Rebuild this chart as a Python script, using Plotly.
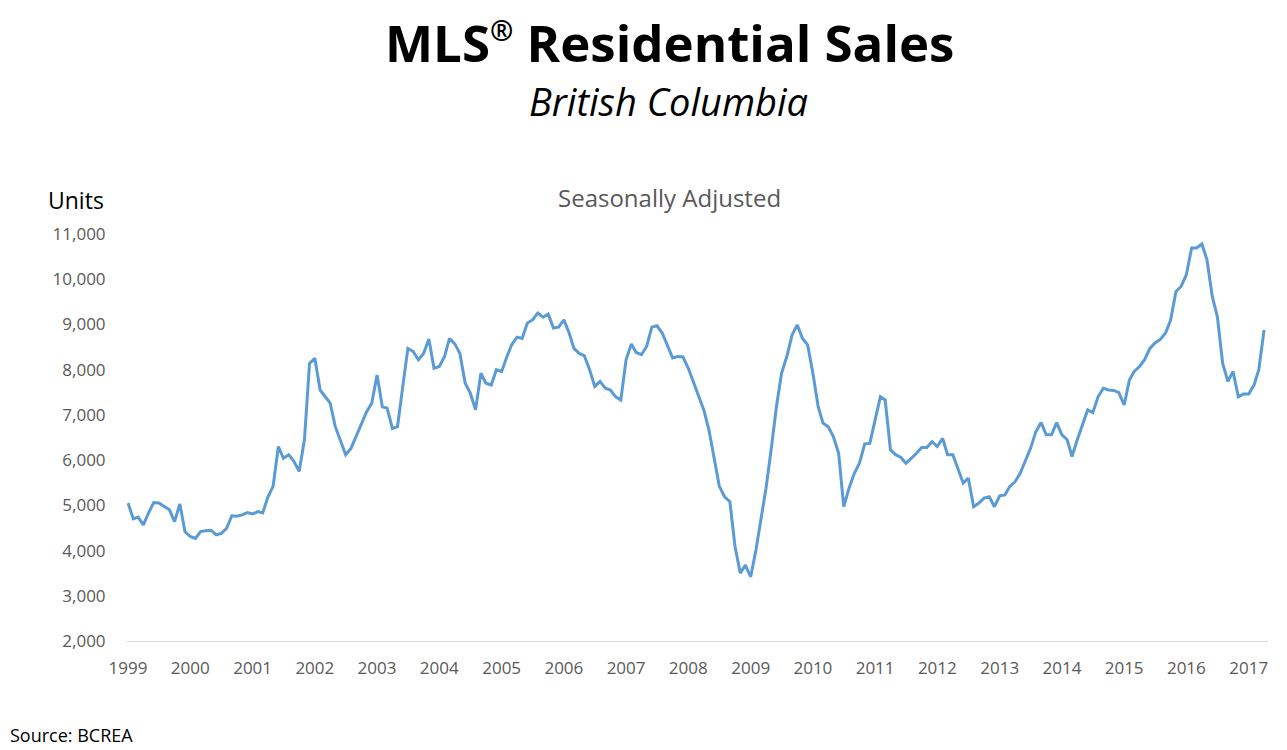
import pandas as pd
import plotly.graph_objects as go

# Monthly seasonally adjusted MLS residential sales, British Columbia (units)
sales_1999 = [5050, 4700, 4740, 4570, 4830, 5060, 5050, 4970, 4900, 4640, 5030, 4420]
sales_2000 = [4310, 4270, 4420, 4440, 4450, 4350, 4380, 4490, 4770, 4760, 4790, 4840]
sales_2001 = [4810, 4860, 4830, 5190, 5420, 6300, 6040, 6120, 5970, 5750, 6450, 8140]
sales_2002 = [8250, 7550, 7400, 7260, 6740, 6410, 6120, 6260, 6520, 6780, 7070, 7260]
sales_2003 = [7880, 7180, 7150, 6700, 6740, 7630, 8470, 8400, 8220, 8360, 8680, 8030]
sales_2004 = [8070, 8290, 8690, 8570, 8360, 7700, 7480, 7110, 7920, 7700, 7660, 8000]
sales_2005 = [7960, 8290, 8550, 8720, 8690, 9030, 9100, 9250, 9160, 9230, 8920, 8940]
sales_2006 = [9100, 8810, 8470, 8360, 8310, 8000, 7630, 7740, 7590, 7550, 7400, 7330]
sales_2007 = [8220, 8570, 8380, 8330, 8510, 8940, 8970, 8810, 8510, 8260, 8290, 8280]
sales_2008 = [8030, 7700, 7440, 7110, 6670, 6000, 5420, 5190, 5080, 4090, 3500, 3680]
sales_2009 = [3420, 4010, 4680, 5380, 6230, 7180, 7920, 8290, 8770, 8990, 8690, 8550]
sales_2010 = [7920, 7180, 6820, 6740, 6520, 6150, 4970, 5380, 5710, 5930, 6360, 6370]
sales_2011 = [6890, 7400, 7330, 6230, 6120, 6060, 5930, 6040, 6150, 6280, 6280, 6410]
sales_2012 = [6300, 6480, 6120, 6120, 5820, 5490, 5600, 4970, 5050, 5160, 5190, 4970]
sales_2013 = [5210, 5230, 5420, 5520, 5710, 6000, 6260, 6630, 6830, 6560, 6560, 6830]
sales_2014 = [6560, 6450, 6080, 6450, 6780, 7110, 7050, 7400, 7590, 7550, 7540, 7490]
sales_2015 = [7220, 7770, 7960, 8070, 8220, 8470, 8590, 8670, 8810, 9100, 9730, 9840]
sales_2016 = [10100, 10690, 10690, 10780, 10430, 9620, 9170, 8140, 7740, 7960, 7400, 7460]
sales_2017 = [7460, 7660, 8000, 8880]

sales = (sales_1999 + sales_2000 + sales_2001 + sales_2002 + sales_2003 + sales_2004
         + sales_2005 + sales_2006 + sales_2007 + sales_2008 + sales_2009 + sales_2010
         + sales_2011 + sales_2012 + sales_2013 + sales_2014 + sales_2015 + sales_2016
         + sales_2017)
start_month = "1999-01-01"
months = pd.date_range(start_month, periods=len(sales), freq="MS")

year_labels = [str(y) for y in range(1999, 2018)]
year_ticks = [f"{y}-01-01" for y in year_labels]
y_ticks = list(range(2000, 11001, 1000))

FONT = "Open Sans"
GREY = "#595959"

fig = go.Figure()
fig.add_trace(go.Scatter(
    x=months, y=sales, mode="lines",
    line=dict(color="#5b9bd5", width=3),
    hoverinfo="x+y", showlegend=False,
))

L, R = 127, 1268
T, B = 234, 641
W, H = 1287, 750

def px(x):
    return (x - L) / (R - L)

def py(y):
    return (B - y) / (B - T)

fig.update_layout(
    width=W, height=H,
    margin=dict(l=L, r=W - R, t=T, b=H - B),
    paper_bgcolor="white", plot_bgcolor="white",
    font=dict(family=FONT, color=GREY),
    xaxis=dict(
        type="date",
        range=["1998-12-26", "2017-04-24"],
        tickvals=year_ticks, ticktext=year_labels,
        showgrid=False, zeroline=False,
        showline=True, linecolor="#d9d9d9", linewidth=1,
        ticks="outside", ticklen=12, tickcolor="rgba(0,0,0,0)",
        tickfont=dict(family=FONT, size=17, color=GREY),
    ),
    yaxis=dict(
        range=[2000, 11000],
        tickvals=y_ticks, tickformat=",",
        showgrid=False, zeroline=False, showline=False,
        ticks="outside", ticklen=17, tickcolor="rgba(0,0,0,0)",
        tickfont=dict(family=FONT, size=17, color=GREY),
    ),
    annotations=[
        dict(text="<b>MLS<sup><span style='font-size:28px'>®</span></sup> Residential Sales</b>",
             x=px(669), y=py(42),
             xref="paper", yref="paper", xanchor="center", yanchor="middle",
             showarrow=False, font=dict(family=FONT, size=51, color="black")),
        dict(text="<i>British Columbia</i>", x=px(668), y=py(101),
             xref="paper", yref="paper", xanchor="center", yanchor="middle",
             showarrow=False, font=dict(family=FONT, size=38, color="black")),
        dict(text="Seasonally Adjusted", x=px(669), y=py(197),
             xref="paper", yref="paper", xanchor="center", yanchor="middle",
             showarrow=False, font=dict(family=FONT, size=24, color=GREY)),
        dict(text="Units", x=px(106), y=py(200),
             xref="paper", yref="paper", xanchor="right", yanchor="middle",
             showarrow=False, font=dict(family=FONT, size=23, color="black")),
        dict(text="Source: BCREA", x=px(8), y=py(735),
             xref="paper", yref="paper", xanchor="left", yanchor="middle",
             showarrow=False, font=dict(family=FONT, size=18, color="black")),
    ],
)

fig.write_html("out.html")
